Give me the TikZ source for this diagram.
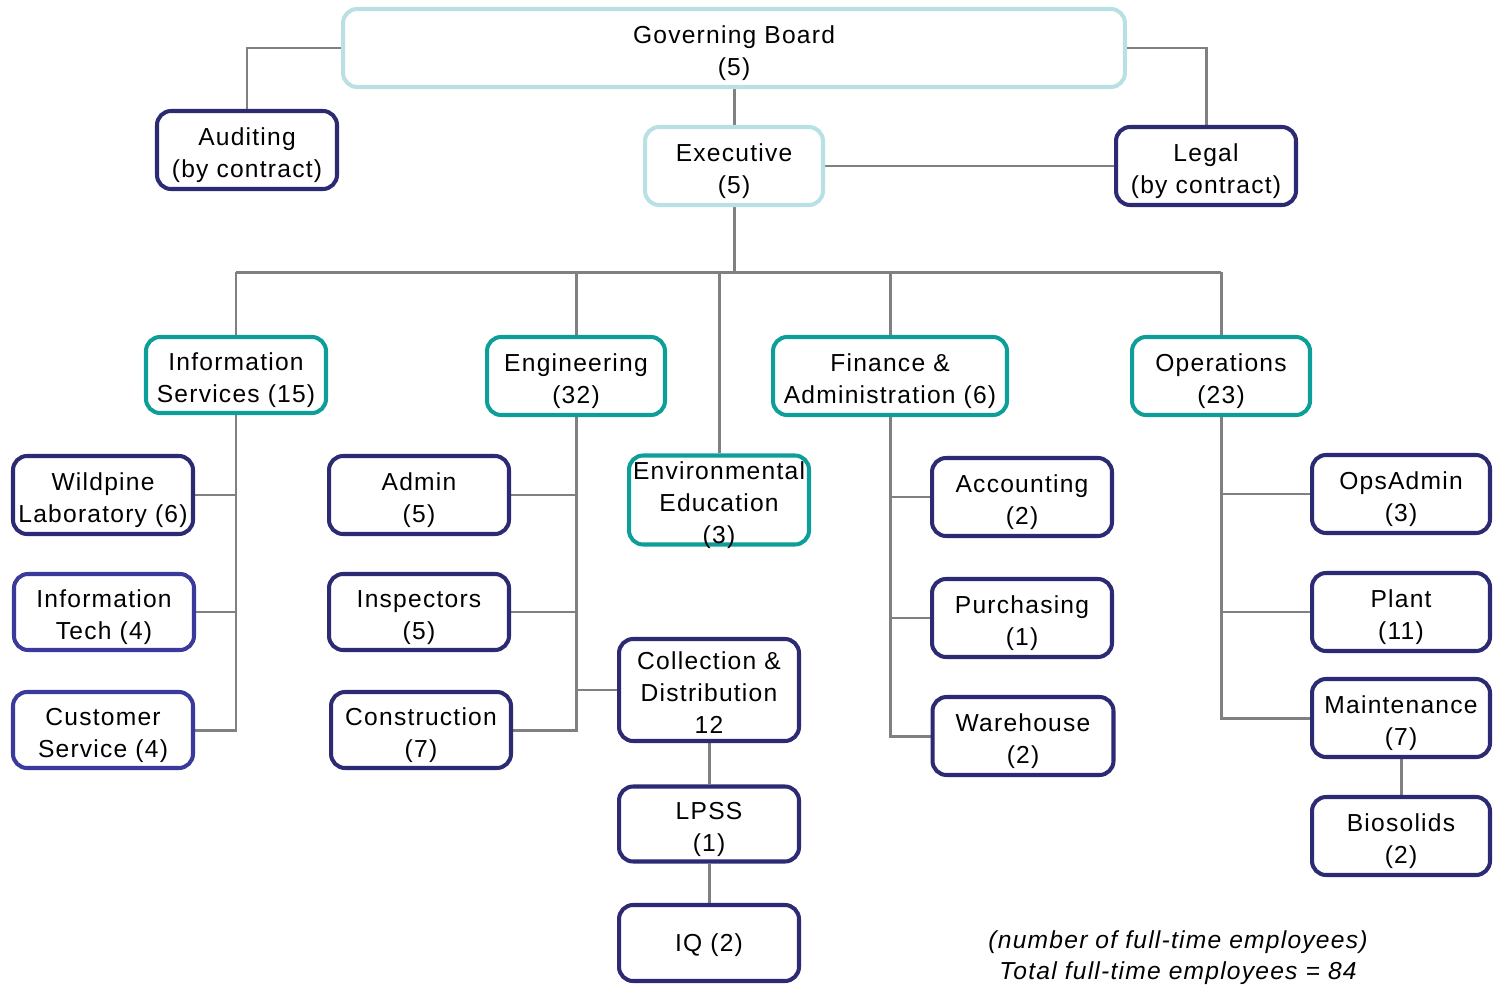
\documentclass[tikz,border=0pt]{standalone}
\usepackage{fontspec}
\setmainfont{Liberation Sans}[LetterSpace=5]
\usetikzlibrary{positioning,backgrounds}
\definecolor{boardblue}{HTML}{B9E0E4}
\definecolor{deptteal}{HTML}{0E9E9A}
\definecolor{unitnavy}{HTML}{2B2A73}
\definecolor{unitblue}{HTML}{3A3A9C}
\definecolor{linkgray}{HTML}{808080}
% strut that lowers the text a little inside its box
\newcommand{\hstrut}[1][15.9pt]{\rule{0pt}{#1}}
\tikzset{
  box/.style={draw, line width=2.3pt, rounded corners=8pt, fill=white, align=center,
    inner sep=0pt, minimum width=3.6cm, minimum height=1.56cm,
    font=\fontsize{14}{18.2}\selectfont},
  topbox/.style={box, draw=boardblue},
  deptbox/.style={box, draw=deptteal},
  unitbox/.style={box, draw=unitnavy},
  itbox/.style={box, draw=unitblue},
  link/.style={draw=linkgray, line width=1.7pt}
}

\begin{document}
\begin{tikzpicture}[x=0.02cm, y=-0.02cm]
			\useasboundingbox (0,0) rectangle (1493,986);
			
			% board and executive
			\node[topbox, minimum width=15.64cm] (board) at (734,48) {\hstrut Governing Board\\(5)};
			\node[unitbox] (audit) at (247,150) {\hstrut Auditing\\(by contract)};
			\node[topbox, minimum width=3.56cm] (exec) at (734,166) {\hstrut Executive\\(5)};
			\node[unitbox] (legal) at (1206,166) {\hstrut Legal\\(by contract)};
			
			% departments
			\node[deptbox, minimum height=1.52cm] (is) at (236,375) {\hstrut Information\\Services (15)};
			\node[deptbox, minimum width=3.56cm] (eng) at (576,376) {\hstrut Engineering\\(32)};
			\node[deptbox, minimum height=1.78cm] (env) at (719,500) {\hstrut[13pt]Environmental\\Education\\\smash{(3)}};
			\node[deptbox, minimum width=4.68cm] (fin) at (890,376) {\hstrut Finance \&\\Administration (6)};
			\node[deptbox, minimum width=3.56cm] (ops) at (1221,376) {\hstrut Operations\\(23)};
			
			% information services units
			\node[unitbox] (wild) at (103,495) {\hstrut Wildpine\\Laboratory (6)};
			\node[itbox, minimum height=1.52cm] (itech) at (104,612) {\hstrut Information\\Tech (4)};
			\node[itbox, minimum height=1.52cm] (cust) at (103,730) {\hstrut Customer\\Service (4)};
			
			% engineering units
			\node[unitbox] (admin) at (419,495) {\hstrut Admin\\(5)};
			\node[unitbox, minimum height=1.52cm] (insp) at (419,612) {\hstrut Inspectors\\(5)};
			\node[unitbox, minimum height=1.52cm] (constr) at (421,730) {\hstrut Construction\\(7)};
			\node[unitbox, minimum height=2.04cm] (coll) at (709,690) {\hstrut[13pt]Collection \&\\Distribution\\12};
			\node[unitbox, minimum height=1.5cm] (lpss) at (709,824) {\hstrut LPSS\\(1)};
			\node[unitbox, minimum height=1.52cm] (iq) at (709,943) {\hstrut[12.5pt]IQ (2)};
			
			% finance units
			\node[unitbox] (acct) at (1022,497) {\hstrut Accounting\\(2)};
			\node[unitbox] (purch) at (1022,618) {\hstrut Purchasing\\(1)};
			\node[unitbox, minimum width=3.62cm] (ware) at (1023,736) {\hstrut Warehouse\\(2)};
			
			% operations units
			\node[unitbox, minimum width=3.56cm] (opsadm) at (1401,494) {\hstrut OpsAdmin\\(3)};
			\node[unitbox, minimum width=3.56cm] (plant) at (1401,612) {\hstrut Plant\\(11)};
			\node[unitbox, minimum width=3.56cm] (maint) at (1401,718) {\hstrut Maintenance\\(7)};
			\node[unitbox, minimum width=3.56cm] (bio) at (1401,836) {\hstrut Biosolids\\(2)};
			
			\node[align=center, font=\fontsize{14}{17.5}\selectfont\itshape] (note) at (1178,958)
				{(number of full-time employees)\\Total full-time employees = 84};
			
			\begin{scope}[on background layer]
				\draw[link] (board.west) -| (audit.north);
				\draw[link] (board.east) -| (legal.north);
				\draw[link] (board) -- (exec);
				\draw[link] (exec) -- (legal);
				\draw[link] (exec.south) -- ++(0,65) coordinate (bus);
				\draw[link] (bus -| is.north) -- (bus -| ops.north);
				\foreach \d in {is,eng,env,fin,ops}
					\draw[link] (bus -| \d.north) -- (\d.north);
				\foreach \u in {wild,itech,cust}
					\draw[link] (is.south) |- (\u.east);
				\foreach \u in {admin,insp,constr}
					\draw[link] (eng.south) |- (\u.east);
				\draw[link] (eng.south) |- (coll.west);
				\draw[link] (coll) -- (lpss) -- (iq);
				\foreach \u in {acct,purch,ware}
					\draw[link] (fin.south) |- (\u.west);
				\foreach \u in {opsadm,plant,maint}
					\draw[link] (ops.south) |- (\u.west);
				\draw[link] (maint) -- (bio);
			\end{scope}
		\end{tikzpicture}
\end{document}
